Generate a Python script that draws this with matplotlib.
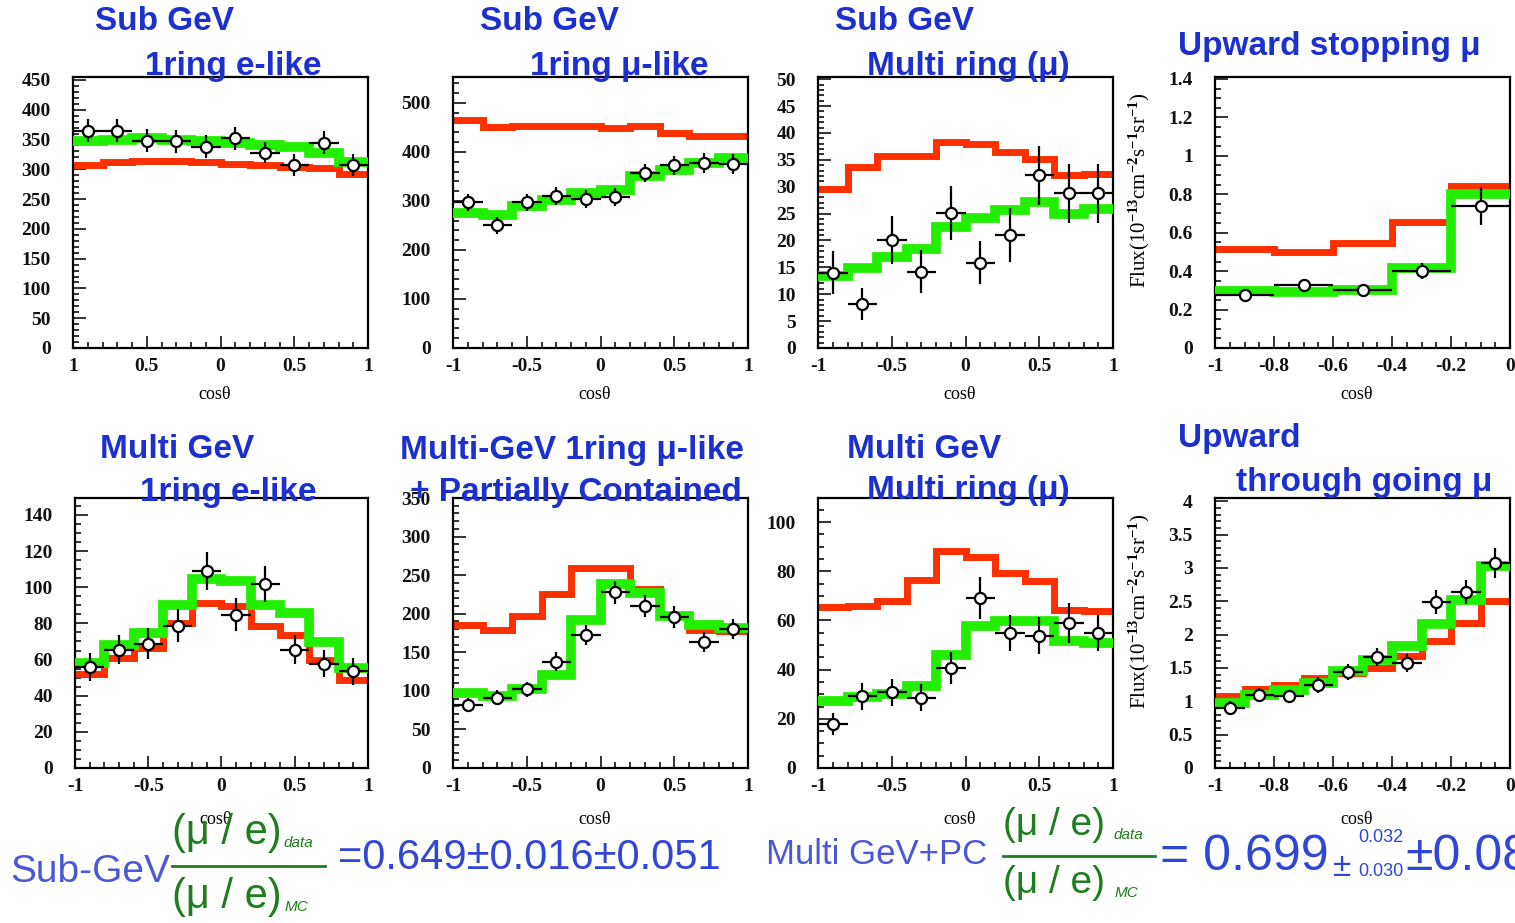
import matplotlib.pyplot as plt
import numpy as np
from matplotlib.lines import Line2D
from matplotlib.ticker import MultipleLocator, FuncFormatter

plt.rcParams['axes.unicode_minus'] = False
plt.rcParams['font.family'] = 'Liberation Serif'
plt.rcParams['font.weight'] = 'bold'
plt.rcParams['mathtext.fontset'] = 'custom'
plt.rcParams['mathtext.rm'] = 'Liberation Serif:bold'
plt.rcParams['mathtext.it'] = 'Liberation Serif:italic:bold'
plt.rcParams['mathtext.bf'] = 'Liberation Serif:bold'

# zenith-angle bin edges (cos theta)
edges_full = [-1.0, -0.8, -0.6, -0.4, -0.2, 0.0, 0.2, 0.4, 0.6, 0.8, 1.0]
edges_upstop = [-1.0, -0.8, -0.6, -0.4, -0.2, 0.0]
edges_upthru = [-1.0, -0.9, -0.8, -0.7, -0.6, -0.5, -0.4, -0.3, -0.2, -0.1, 0.0]

# Sub-GeV 1-ring e-like
sub_e_data = [365, 365, 348, 347, 338, 352, 328, 307, 345, 307]
sub_e_err = [19, 19, 19, 19, 19, 19, 18, 18, 19, 18]
sub_e_osc = [348, 350, 352, 350, 348, 345, 340, 338, 328, 313]
sub_e_noosc = [308, 313, 314, 314, 313, 309, 308, 304, 302, 292]

# Sub-GeV 1-ring mu-like
sub_mu_data = [297, 250, 297, 310, 304, 308, 357, 373, 378, 376]
sub_mu_err = [18, 17, 18, 18, 18, 18, 19, 19, 20, 20]
sub_mu_osc = [276, 272, 289, 303, 316, 323, 350, 364, 378, 388]
sub_mu_noosc = [465, 450, 454, 454, 454, 449, 454, 439, 433, 433]

# Sub-GeV multi-ring (mu)
sub_mr_data = [14.0, 8.2, 20.1, 14.2, 25.1, 15.9, 21.0, 32.1, 28.8, 28.8]
sub_mr_err = [4.0, 3.0, 4.5, 4.0, 5.0, 4.0, 5.0, 5.5, 5.5, 5.5]
sub_mr_osc = [13.4, 14.8, 17.0, 18.5, 22.5, 24.1, 25.6, 27.2, 25.0, 25.9]
sub_mr_noosc = [29.6, 33.6, 35.8, 35.8, 38.3, 38.0, 36.4, 35.2, 32.1, 32.4]

# Upward stopping mu (flux, 1e-13 cm^-2 s^-1 sr^-1)
upstop_data = [0.278, 0.33, 0.304, 0.40, 0.738]
upstop_err = [0.03, 0.03, 0.03, 0.04, 0.10]
upstop_osc = [0.295, 0.29, 0.304, 0.417, 0.80]
upstop_noosc = [0.516, 0.498, 0.547, 0.655, 0.842]

# Multi-GeV 1-ring e-like
multi_e_data = [55.9, 65.5, 68.8, 78.8, 108.9, 84.9, 102.0, 65.5, 57.6, 53.5]
multi_e_err = [7.5, 8.0, 8.5, 9.0, 10.5, 9.0, 10.0, 8.0, 7.5, 7.5]
multi_e_osc = [58.1, 68.3, 74.7, 90.4, 104.6, 103.7, 90.2, 85.8, 69.6, 55.4]
multi_e_noosc = [52.2, 60.9, 66.4, 80.3, 91.3, 89.5, 78.4, 73.8, 60.0, 48.9]

# Multi-GeV 1-ring mu-like + partially contained
multi_mu_data = [82, 91, 102, 138, 172, 228, 210, 196, 163, 180]
multi_mu_err = [9, 9.5, 10, 12, 13, 15, 14, 14, 13, 13]
multi_mu_osc = [97, 93, 102, 121, 192, 238, 227, 197, 186, 182]
multi_mu_noosc = [186, 179, 197, 225, 259, 259, 232, 197, 179, 177]

# Multi-GeV multi-ring (mu)
multi_mr_data = [18.0, 29.1, 30.8, 28.5, 40.7, 69.1, 54.9, 53.8, 58.9, 54.9]
multi_mr_err = [4.5, 5.5, 5.5, 5.5, 6.5, 8.5, 7.5, 7.5, 8.0, 7.5]
multi_mr_osc = [27.1, 28.9, 30.2, 33.2, 46.1, 57.6, 59.6, 59.6, 51.5, 50.8]
multi_mr_noosc = [65.4, 65.7, 67.8, 76.6, 88.1, 86.0, 79.3, 75.9, 64.4, 63.7]

# Upward through-going mu (flux, 1e-13 cm^-2 s^-1 sr^-1)
upthru_data = [0.90, 1.10, 1.075, 1.24, 1.44, 1.665, 1.575, 2.485, 2.635, 3.075]
upthru_err = [0.10, 0.10, 0.10, 0.12, 0.12, 0.14, 0.14, 0.18, 0.18, 0.22]
upthru_osc = [0.975, 1.10, 1.165, 1.275, 1.45, 1.625, 1.825, 2.165, 2.525, 3.025]
upthru_noosc = [1.075, 1.185, 1.25, 1.35, 1.425, 1.50, 1.675, 1.90, 2.175, 2.50]

RED = '#ff3000'
GREEN = '#22ee00'
TITLE_BLUE = '#1c30d0'
TEXT_BLUE = '#3046d8'
FRAC_GREEN = '#1e7d1e'
SANS = ['Liberation Sans', 'DejaVu Sans']

W, H = 1515, 923
fig = plt.figure(figsize=(W / 100, H / 100), dpi=100)


def px(x, y):
    return x / W, 1 - y / H


def rect(x0, y0, x1, y1):
    return [x0 / W, 1 - y1 / H, (x1 - x0) / W, (y1 - y0) / H]


def tick_fmt(v, _):
    return f"{round(v, 6) + 0:g}"


def draw_panel(box, edges, data, err, osc, noosc, ymax, ymaj, ymin, xmaj, xmin,
               xfmt=tick_fmt, label_y=-0.14):
    ax = fig.add_axes(box)
    edges = np.asarray(edges)
    ax.stairs(noosc, edges, baseline=None, color=RED, lw=5, zorder=2)
    ax.stairs(osc, edges, baseline=None, color=GREEN, lw=7, zorder=3)
    centers = (edges[:-1] + edges[1:]) / 2
    halfw = (edges[1:] - edges[:-1]) / 2
    ax.errorbar(centers, data, yerr=err, xerr=halfw, fmt='o', ms=8,
                mfc='white', mec='black', mew=1.6, ecolor='black',
                elinewidth=1.6, capsize=0, zorder=5)
    ax.set_xlim(edges[0], edges[-1])
    ax.set_ylim(0, ymax)
    ax.yaxis.set_major_locator(MultipleLocator(ymaj))
    ax.yaxis.set_minor_locator(MultipleLocator(ymin))
    ax.xaxis.set_major_locator(MultipleLocator(xmaj))
    ax.xaxis.set_minor_locator(MultipleLocator(xmin))
    ax.yaxis.set_major_formatter(FuncFormatter(tick_fmt))
    ax.xaxis.set_major_formatter(FuncFormatter(xfmt))
    ax.tick_params(which='both', direction='in', top=False, right=False,
                   labelsize=14, width=1.2, colors='#111111')
    ax.tick_params(which='major', length=9)
    ax.tick_params(which='minor', length=4.5)
    ax.tick_params(axis='y', pad=16)
    ax.tick_params(axis='x', pad=7)
    for s in ax.spines.values():
        s.set_linewidth(1.6)
    ax.set_xlabel('cosθ', fontsize=13)
    ax.xaxis.set_label_coords(0.48, label_y)
    return ax


draw_panel(rect(73, 77, 368, 348), edges_full, sub_e_data, sub_e_err,
           sub_e_osc, sub_e_noosc, 455, 50, 10, 0.5, 0.1,
           xfmt=lambda v, _: f"{abs(round(v, 6)):g}")
draw_panel(rect(453, 77, 748, 348), edges_full, sub_mu_data, sub_mu_err,
           sub_mu_osc, sub_mu_noosc, 553, 100, 20, 0.5, 0.1)
draw_panel(rect(818, 77, 1113, 348), edges_full, sub_mr_data, sub_mr_err,
           sub_mr_osc, sub_mr_noosc, 50.4, 5, 1, 0.5, 0.1)
ax4 = draw_panel(rect(1215, 77, 1510, 348), edges_upstop, upstop_data, upstop_err,
                 upstop_osc, upstop_noosc, 1.41, 0.2, 0.05, 0.2, 0.05)

draw_panel(rect(75, 498, 368, 768), edges_full, multi_e_data, multi_e_err,
           multi_e_osc, multi_e_noosc, 149.4, 20, 5, 0.5, 0.1, label_y=-0.16)
draw_panel(rect(453, 498, 748, 768), edges_full, multi_mu_data, multi_mu_err,
           multi_mu_osc, multi_mu_noosc, 350, 50, 10, 0.5, 0.1, label_y=-0.16)
draw_panel(rect(818, 498, 1113, 768), edges_full, multi_mr_data, multi_mr_err,
           multi_mr_osc, multi_mr_noosc, 109.8, 20, 5, 0.5, 0.1, label_y=-0.16)
ax8 = draw_panel(rect(1215, 498, 1510, 768), edges_upthru, upthru_data, upthru_err,
                 upthru_osc, upthru_noosc, 4.05, 0.5, 0.1, 0.2, 0.05, label_y=-0.16)

flux_label = r"Flux(10$^{-13}$cm$^{-2}$s$^{-1}$sr$^{-1}$)"
for ax in (ax4, ax8):
    ax.set_ylabel(flux_label, fontsize=15)
    ax.yaxis.set_label_coords(-0.215, 0.58)

# panel titles
titles = [
    ("Sub GeV", 95, 22), ("1ring e-like", 145, 67),
    ("Sub GeV", 480, 22), ("1ring μ-like", 530, 67),
    ("Sub GeV", 835, 22), ("Multi ring (μ)", 867, 67),
    ("Upward stopping μ", 1178, 47),
    ("Multi GeV", 100, 450), ("1ring e-like", 140, 492),
    ("Multi-GeV 1ring μ-like", 400, 450), ("+ Partially Contained", 410, 493),
    ("Multi GeV", 847, 450), ("Multi ring (μ)", 867, 490),
    ("Upward", 1178, 438), ("through going μ", 1236, 483),
]
for txt, x, y in titles:
    fig.text(*px(x, y), txt, family=SANS, weight='bold', fontsize=24,
             color=TITLE_BLUE, ha='left', va='center')


def ratio_fraction(x0, x1, y_num, y_line, y_den, size):
    fig.text(*px(x0, y_num), "(μ / e)", family=SANS, weight='normal',
             fontsize=size, color=FRAC_GREEN, ha='left', va='center')
    fig.text(*px(x1 - 42, y_num + 10), "data", family=SANS, weight='normal',
             style='italic', fontsize=11, color=FRAC_GREEN, ha='left', va='center')
    fig.add_artist(Line2D([x0 / W, x1 / W], [1 - y_line / H, 1 - y_line / H],
                          color=FRAC_GREEN, lw=2))
    fig.text(*px(x0, y_den), "(μ / e)", family=SANS, weight='normal',
             fontsize=size, color=FRAC_GREEN, ha='left', va='center')
    fig.text(*px(x1 - 40, y_den + 10), "MC", family=SANS, weight='normal',
             style='italic', fontsize=11, color=FRAC_GREEN, ha='left', va='center')


# double ratio results
fig.text(*px(10, 872), "Sub-GeV", family=SANS, weight='normal', fontsize=28,
         color='#4a58d8', ha='left', va='center')
ratio_fraction(172, 325, 833, 866, 897, 30)
fig.text(*px(338, 858), "=0.649±0.016±0.051", family=SANS, weight='normal',
         fontsize=30, color=TEXT_BLUE, ha='left', va='center')

fig.text(*px(766, 855), "Multi GeV+PC", family=SANS, weight='normal', fontsize=25,
         color='#4a58d8', ha='left', va='center')
ratio_fraction(1003, 1155, 825, 856, 883, 28)
fig.text(*px(1160, 857), "= 0.699", family=SANS, weight='normal', fontsize=36,
         color=TEXT_BLUE, ha='left', va='center')
fig.text(*px(1333, 868), "±", family=SANS, weight='normal', fontsize=24,
         color=TEXT_BLUE, ha='left', va='center')
fig.text(*px(1358, 838), "0.032", family=SANS, weight='normal', fontsize=13,
         color=TEXT_BLUE, ha='left', va='center')
fig.text(*px(1358, 872), "0.030", family=SANS, weight='normal', fontsize=13,
         color=TEXT_BLUE, ha='left', va='center')
fig.text(*px(1405, 857), "±0.08", family=SANS, weight='normal', fontsize=36,
         color=TEXT_BLUE, ha='left', va='center')

fig.savefig('out.png', dpi=100)
